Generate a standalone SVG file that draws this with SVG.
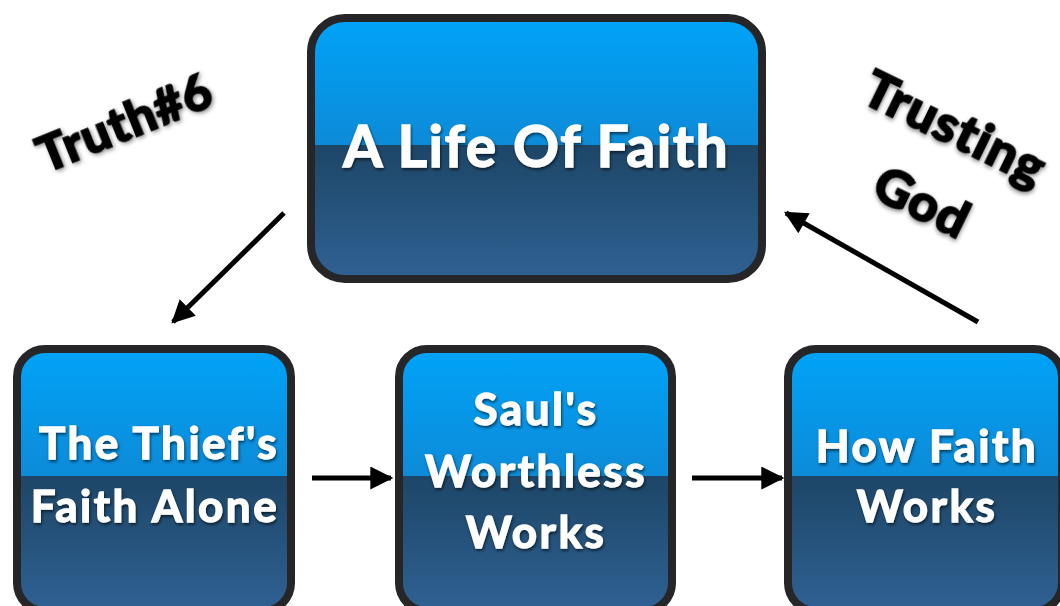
<svg xmlns="http://www.w3.org/2000/svg" width="1060" height="606" viewBox="0 0 1060 606">
<defs>
<linearGradient id="boxfill" x1="0" y1="0" x2="0" y2="1">
<stop offset="0" stop-color="#00a3f8"/>
<stop offset="0.485" stop-color="#0d8bd8"/>
<stop offset="0.485" stop-color="#1d4667"/>
<stop offset="1" stop-color="#2f6193"/>
</linearGradient>
<filter id="tshadow" x="-10%" y="-30%" width="120%" height="160%">
<feDropShadow dx="1" dy="2" stdDeviation="1.5" flood-color="#000" flood-opacity="0.6"/>
</filter>
<filter id="lshadow" x="-10%" y="-30%" width="120%" height="160%">
<feDropShadow dx="1" dy="2" stdDeviation="2" flood-color="#000" flood-opacity="0.45"/>
</filter>
<marker id="ah" viewBox="0 0 10 10" refX="9" refY="5" markerWidth="6.4" markerHeight="4.6" markerUnits="strokeWidth" orient="auto">
<path d="M0,0 L10,5 L0,10 Z" fill="#000"/>
</marker>
</defs>
<style>
.box{fill:url(#boxfill);stroke:#262628;stroke-width:8}
.bt{font-family:Lato,"Open Sans","Liberation Sans",sans-serif;font-weight:700;fill:#fff;stroke:#fff;stroke-width:1.3;text-anchor:middle;letter-spacing:2.5px;filter:url(#tshadow)}
.lbl{font-family:Lato,"Open Sans","Liberation Sans",sans-serif;font-weight:900;fill:#000;stroke:#000;stroke-width:1.6;text-anchor:middle;letter-spacing:1px;filter:url(#lshadow)}
.conn{stroke:#000;stroke-width:5;fill:none;marker-end:url(#ah)}
</style>
<rect width="1060" height="606" fill="#fff"/>
<g id="life">
<rect class="box" x="311" y="18" width="451" height="261" rx="34"/>
<text class="bt" x="536" y="167" font-size="57" style="letter-spacing:1.5px">A Life Of Faith</text>
</g>
<g id="thief">
<rect class="box" x="17" y="349" width="274" height="262" rx="28"/>
<text class="bt" x="159" y="459" font-size="44">The Thief's</text>
<text class="bt" x="155" y="522" font-size="44">Faith Alone</text>
</g>
<g id="saul">
<rect class="box" x="399" y="349" width="273" height="262" rx="28"/>
<text class="bt" x="536" y="425" font-size="44">Saul's</text>
<text class="bt" x="536" y="487" font-size="44">Worthless</text>
<text class="bt" x="536" y="548" font-size="44">Works</text>
</g>
<g id="how">
<rect class="box" x="788" y="349" width="274" height="262" rx="28"/>
<text class="bt" x="927" y="462" font-size="44">How Faith</text>
<text class="bt" x="927" y="522" font-size="44">Works</text>
</g>
<g id="truth6">
<text class="lbl" x="125" y="140" font-size="50" transform="rotate(-22 125 123)">Truth#6</text>
</g>
<g id="trusting">
<text class="lbl" transform="rotate(26 955 128)" x="955" y="146" font-size="52">Trusting</text>
<text class="lbl" transform="rotate(26 922 202)" x="922" y="220" font-size="52">God</text>
</g>
<g id="connectors">
<line class="conn" x1="284" y1="213" x2="173" y2="322"/>
<line class="conn" x1="312" y1="478" x2="391" y2="478"/>
<line class="conn" x1="692" y1="478" x2="782" y2="478"/>
<line class="conn" x1="978" y1="322" x2="786" y2="213"/>
</g>
</svg>
